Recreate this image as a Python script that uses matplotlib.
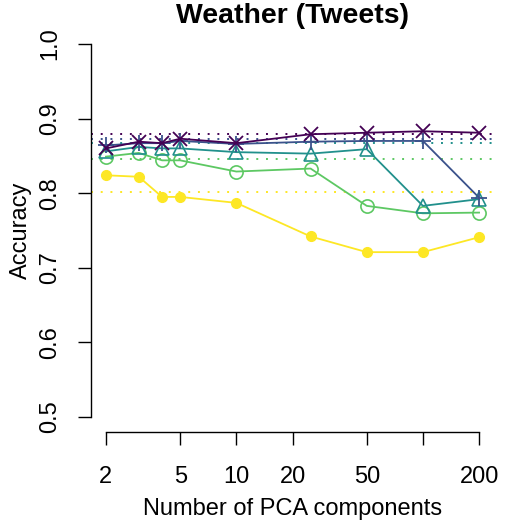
import matplotlib
matplotlib.use('Agg')
import matplotlib.pyplot as plt
from matplotlib.ticker import NullLocator, FixedLocator, FixedFormatter

plt.rcParams['font.family'] = ['Liberation Sans', 'DejaVu Sans']

# data
n_comp = [2, 3, 4, 5, 10, 25, 50, 100, 200]
acc_yellow = [0.824, 0.822, 0.795, 0.795, 0.787, 0.742, 0.721, 0.721, 0.741]
acc_green = [0.849, 0.854, 0.844, 0.844, 0.829, 0.833, 0.783, 0.773, 0.774]
acc_teal = [0.856, 0.862, 0.860, 0.860, 0.855, 0.853, 0.859, 0.783, 0.792]
acc_blue = [0.864, 0.867, 0.867, 0.870, 0.866, 0.869, 0.870, 0.870, 0.794]
acc_purple = [0.860, 0.869, 0.867, 0.873, 0.867, 0.879, 0.881, 0.883, 0.881]
baselines = [0.802, 0.846, 0.867, 0.873, 0.879]

colors = ['#FDE725', '#5DC863', '#21908C', '#3B528B', '#440154']
xticks = [2, 5, 10, 20, 50, 100, 200]
xticklabels = ['2', '5', '10', '20', '50', '', '200']
yticks = [0.5, 0.6, 0.7, 0.8, 0.9, 1.0]

W = H = 523
fig = plt.figure(figsize=(5.23, 5.23), dpi=100)
ax = fig.add_axes([91 / W, 1 - 432 / H, (494 - 91) / W, (432 - 29) / H])

# dotted reference lines
for b, c in zip(baselines, colors):
    ax.axhline(b, color=c, lw=1.4, linestyle=(0, (1, 4)), zorder=1)

series = [acc_yellow, acc_green, acc_teal, acc_blue, acc_purple]
markers = [dict(marker='o', ms=7, mfc=colors[0], mec=colors[0]),
           dict(marker='o', ms=9.5, mfc='none', mew=1.2),
           dict(marker='^', ms=10, mfc='none', mew=1.2),
           dict(marker='+', ms=12, mew=1.3),
           dict(marker='x', ms=9.5, mew=1.3)]
for ys, c, mk in zip(series, colors, markers):
    ax.plot(n_comp, ys, color=c, lw=1.3, zorder=2, **mk)

ax.set_xscale('log')
ax.set_xlim(10 ** 0.221, 10 ** 2.381)
ax.set_ylim(0.48, 1.02)
ax.xaxis.set_major_locator(FixedLocator(xticks))
ax.xaxis.set_major_formatter(FixedFormatter(xticklabels))
ax.xaxis.set_minor_locator(NullLocator())
ax.set_yticks(yticks)
ax.set_yticklabels(['0.5', '0.6', '0.7', '0.8', '0.9', '1.0'], rotation=90, va='center')

for s in ['top', 'right']:
    ax.spines[s].set_visible(False)
ax.spines['left'].set_bounds(0.5, 1.0)
ax.spines['bottom'].set_bounds(2, 200)
for s in ['left', 'bottom']:
    ax.spines[s].set_linewidth(1.0)

ax.tick_params(axis='both', length=9.4, width=1.0, labelsize=17)
ax.tick_params(axis='x', pad=15)
ax.tick_params(axis='y', pad=12)

ax.set_xlabel('Number of PCA components', fontsize=17, labelpad=7.5)
ax.set_ylabel('Accuracy', fontsize=17, labelpad=5)
ax.set_title('Weather (Tweets)', fontsize=20.4, fontweight='bold', pad=1.5)

fig.savefig('out.png', dpi=100)
